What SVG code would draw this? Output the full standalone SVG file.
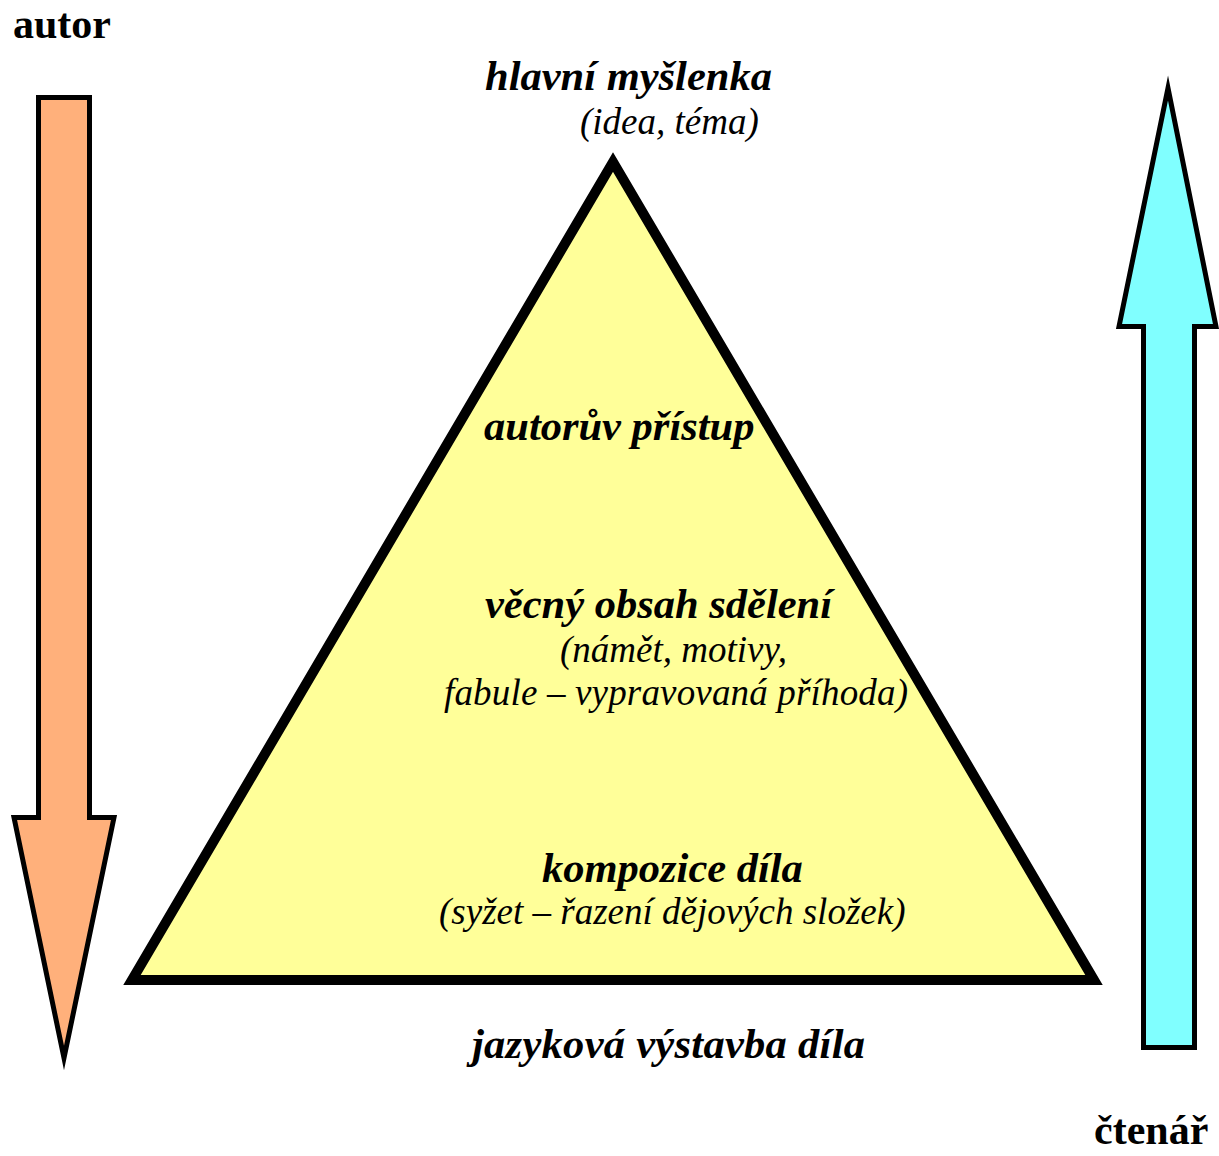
<svg xmlns="http://www.w3.org/2000/svg" width="1219" height="1156" viewBox="0 0 1219 1156">
<style>
.bi{font-family:"Liberation Serif",serif;font-weight:bold;font-style:italic;font-size:42.5px;fill:#000}
.i{font-family:"Liberation Serif",serif;font-style:italic;font-size:37px;fill:#000}
.b{font-family:"Liberation Serif",serif;font-weight:bold;font-size:42px;fill:#000}
.shape{stroke:#000;stroke-linejoin:miter;stroke-miterlimit:20}
</style>
<rect width="1219" height="1156" fill="#fff"/>
<g id="arrow-autor">
<polygon class="shape" fill="#FFB07B" stroke-width="5" points="38.5,97.5 89.5,97.5 89.5,817.5 114,817.5 64,1058 14,817.5 38.5,817.5"/>
<text class="b" x="13" y="38">autor</text>
</g>
<g id="arrow-ctenar">
<polygon class="shape" fill="#80FFFF" stroke-width="5" points="1168,88 1216,326.5 1194.5,326.5 1194.5,1047.5 1143.5,1047.5 1143.5,326.5 1119,326.5"/>
<text class="b" x="1094" y="1144">čtenář</text>
</g>
<g id="pyramid">
<polygon class="shape" fill="#FFFF99" stroke-width="10" points="613,162 1094,980 132,980"/>
</g>
<g id="label-hlavni">
<text class="bi" x="485" y="90">hlavní myšlenka</text>
<text class="i" x="580" y="134">(idea, téma)</text>
</g>
<g id="label-pristup">
<text class="bi" x="484" y="440">autorův přístup</text>
</g>
<g id="label-obsah">
<text class="bi" x="485" y="618">věcný obsah sdělení</text>
<text class="i" x="560" y="662">(námět, motivy,</text>
<text class="i" x="444" y="705" textLength="464">fabule – vypravovaná příhoda)</text>
</g>
<g id="label-kompozice">
<text class="bi" x="542" y="882">kompozice díla</text>
<text class="i" x="439" y="924">(syžet – řazení dějových složek)</text>
</g>
<g id="label-jazyk">
<text class="bi" x="472" y="1058" textLength="393">jazyková výstavba díla</text>
</g>
<g id="connectors"></g>
</svg>
